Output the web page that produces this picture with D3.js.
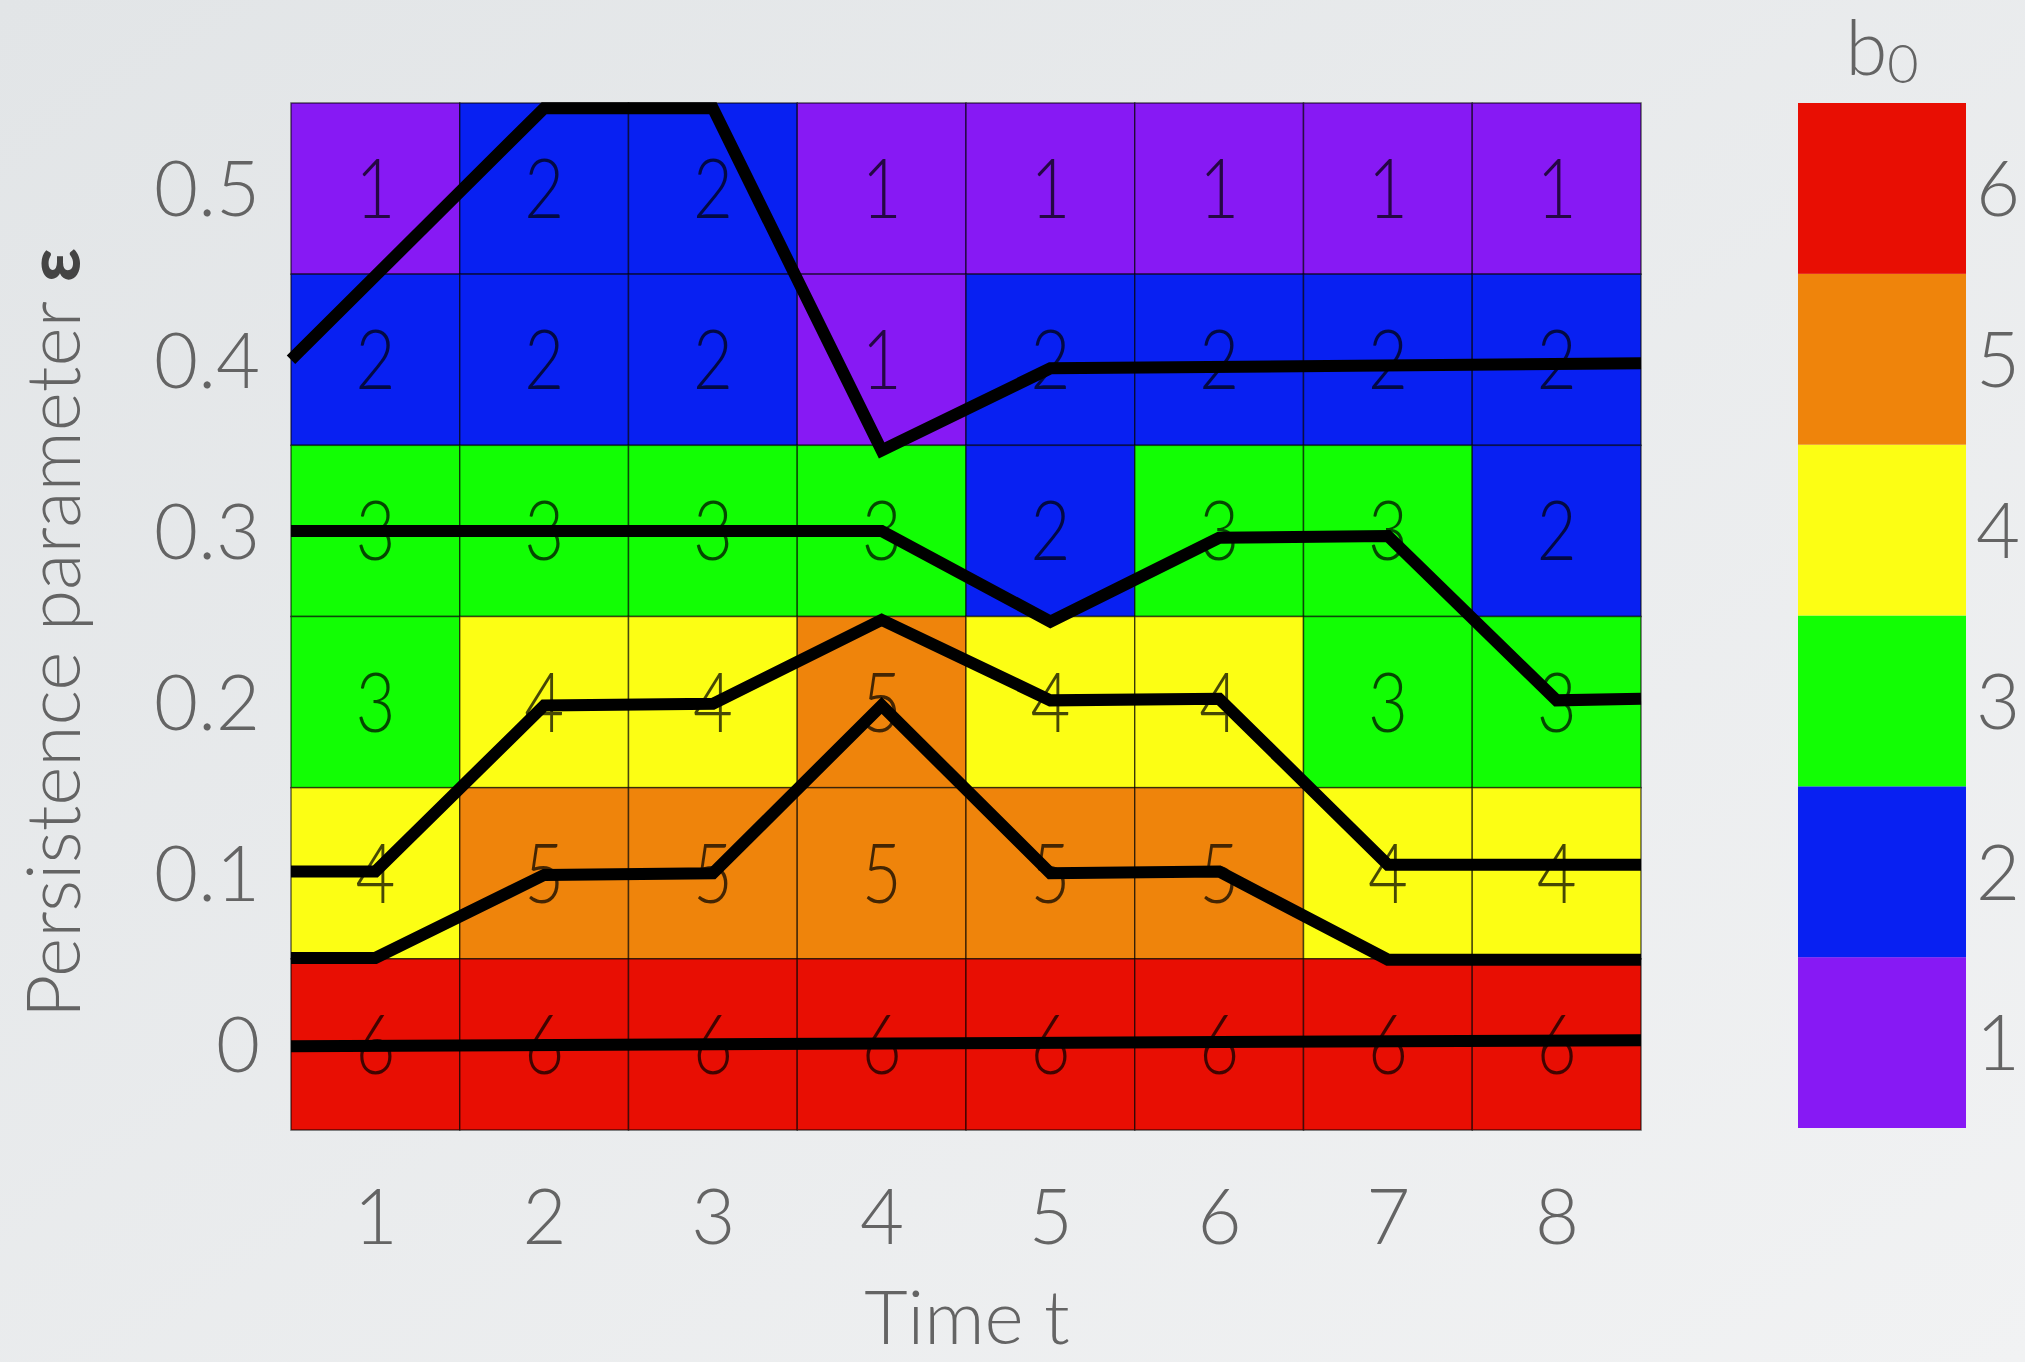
<!DOCTYPE html>
<html>
<head>
<meta charset="utf-8">
<script src="https://cdn.jsdelivr.net/npm/d3@7"></script>
<style>
  html, body { margin: 0; padding: 0; overflow: hidden; }
  svg { display: block; }
</style>
</head>
<body>
<svg id="chart" width="2025" height="1362"></svg>
<script>
// Time steps (columns) and persistence levels (rows, top to bottom)
const times = [1, 2, 3, 4, 5, 6, 7, 8];
const epsLevels = [0.5, 0.4, 0.3, 0.2, 0.1, 0];

// Number of connected components b0 per time step, one array per persistence level
const b0AtEps05 = [1, 2, 2, 1, 1, 1, 1, 1];
const b0AtEps04 = [2, 2, 2, 1, 2, 2, 2, 2];
const b0AtEps03 = [3, 3, 3, 3, 2, 3, 3, 2];
const b0AtEps02 = [3, 4, 4, 5, 4, 4, 3, 3];
const b0AtEps01 = [4, 5, 5, 5, 5, 5, 4, 4];
const b0AtEps00 = [6, 6, 6, 6, 6, 6, 6, 6];

// Colour bar levels and their colours
const b0Levels = [1, 2, 3, 4, 5, 6];
const b0Colors = ["#8719f4", "#0820f2", "#12fe04", "#fcfe14", "#ef840b", "#e80e03"];

// Persistence curves: [time, epsilon] pairs
const curve1 = [[0.5, 0.400], [2, 0.547], [3, 0.547], [4, 0.347], [5, 0.395], [8.5, 0.398]];
const curve2 = [[0.5, 0.300], [4, 0.300], [5, 0.247], [6, 0.296], [7, 0.297], [8, 0.201], [8.5, 0.202]];
const curve3 = [[0.5, 0.101], [1, 0.101], [2, 0.198], [3, 0.199], [4, 0.248], [5, 0.201], [6, 0.202], [7, 0.105], [8.5, 0.105]];
const curve4 = [[0.5, 0.0505], [1, 0.0505], [2, 0.099], [3, 0.100], [4, 0.198], [5, 0.100], [6, 0.101], [7, 0.0495], [8.5, 0.0495]];
const curve5 = [[0.5, -0.001], [8.5, 0.0025]];

const rowsB0 = [b0AtEps05, b0AtEps04, b0AtEps03, b0AtEps02, b0AtEps01, b0AtEps00];
const curves = [curve1, curve2, curve3, curve4, curve5];

const svg = d3.select("#chart");
const W = 2025, H = 1362;

// Background
const defs = svg.append("defs");
const bg = defs.append("linearGradient").attr("id", "bg")
  .attr("x1", "0").attr("y1", "0").attr("x2", "1").attr("y2", "1");
bg.append("stop").attr("offset", "0").attr("stop-color", "#e2e5e7");
bg.append("stop").attr("offset", "1").attr("stop-color", "#f1f2f3");
svg.append("rect").attr("width", W).attr("height", H).attr("fill", "url(#bg)");

// Plot area
const plot = { left: 291, right: 1641, top: 103, bottom: 1130 };
const x = d3.scaleLinear().domain([0.5, 8.5]).range([plot.left, plot.right]);
const y = d3.scaleLinear().domain([-0.05, 0.55]).range([plot.bottom, plot.top]);
const color = d3.scaleOrdinal().domain(b0Levels).range(b0Colors);

const fontFamily = "Lato, 'Open Sans', 'Noto Sans', sans-serif";
const labelGrey = "#646464";

// Heatmap cells
const cells = [];
epsLevels.forEach((e, r) => {
  times.forEach((t, c) => cells.push({ t, e, v: rowsB0[r][c] }));
});

const cellG = svg.append("g");
cellG.selectAll("rect").data(cells).join("rect")
  .attr("x", d => x(d.t - 0.5))
  .attr("y", d => y(d.e + 0.05))
  .attr("width", d => x(d.t + 0.5) - x(d.t - 0.5))
  .attr("height", d => y(d.e - 0.05) - y(d.e + 0.05))
  .attr("fill", d => color(d.v))
  .attr("stroke", "rgba(0,0,0,0.6)")
  .attr("stroke-width", 1.5);

cellG.selectAll("text").data(cells).join("text")
  .attr("transform", d => `translate(${x(d.t)},${y(d.e)}) scale(0.84,1)`)
  .attr("dy", "0.36em")
  .attr("text-anchor", "middle")
  .attr("font-family", fontFamily)
  .attr("font-weight", 300)
  .attr("font-size", 82)
  .attr("fill", "rgba(0,0,0,0.72)")
  .text(d => d.v);

// Persistence curves
const line = d3.line().x(d => x(d[0])).y(d => y(d[1]));
svg.append("g").selectAll("path").data(curves).join("path")
  .attr("d", line)
  .attr("fill", "none")
  .attr("stroke", "#000")
  .attr("stroke-width", 12)
  .attr("stroke-linejoin", "miter")
  .attr("stroke-linecap", "butt");

// Axes
function styleAxis(g) {
  g.select(".domain").remove();
  g.selectAll(".tick line").remove();
  g.selectAll("text")
    .attr("font-family", fontFamily)
    .attr("font-weight", 300)
    .attr("font-size", 76)
    .attr("fill", labelGrey);
}

const yAxis = d3.axisLeft(y).tickValues(epsLevels).tickSize(0).tickPadding(31)
  .tickFormat(d => d === 0 ? "0" : d3.format(".1f")(d));
svg.append("g").attr("transform", `translate(${plot.left},0)`).call(yAxis).call(styleAxis)
  .selectAll("text").attr("dy", "0.36em");

const xAxis = d3.axisBottom(x).tickValues(times).tickSize(0).tickPadding(60)
  .tickFormat(d3.format("d"));
svg.append("g").attr("transform", `translate(0,${plot.bottom})`).call(xAxis).call(styleAxis)
  .selectAll("text").attr("dy", "0.71em");

// Axis titles
svg.append("text")
  .attr("x", (plot.left + plot.right) / 2 + 1)
  .attr("y", 1344)
  .attr("text-anchor", "middle")
  .attr("font-family", fontFamily)
  .attr("font-weight", 300)
  .attr("font-size", 75)
  .attr("fill", labelGrey)
  .text("Time t");

const yTitle = svg.append("text")
  .attr("transform", "translate(80,633) rotate(-90)")
  .attr("text-anchor", "middle")
  .attr("font-family", fontFamily)
  .attr("font-weight", 300)
  .attr("font-size", 75)
  .attr("fill", labelGrey);
yTitle.append("tspan").text("Persistence parameter ");
yTitle.append("tspan").attr("font-weight", 700).attr("fill", "#444").text("ε");

// Colour bar
const cb = { left: 1798, right: 1966, top: 103, bottom: 1128 };
const cy = d3.scaleLinear().domain([0.5, 6.5]).range([cb.bottom, cb.top]);
svg.append("g").selectAll("rect").data(b0Levels).join("rect")
  .attr("x", cb.left)
  .attr("y", d => cy(d + 0.5))
  .attr("width", cb.right - cb.left)
  .attr("height", d => cy(d - 0.5) - cy(d + 0.5))
  .attr("fill", d => color(d));

const cAxis = d3.axisRight(cy).tickValues(b0Levels).tickSize(0).tickPadding(10)
  .tickFormat(d3.format("d"));
svg.append("g").attr("transform", `translate(${cb.right},0)`).call(cAxis).call(styleAxis)
  .selectAll("text").attr("dy", "0.36em");

// Colour bar title b0
const cbTitle = svg.append("text")
  .attr("x", (cb.left + cb.right) / 2)
  .attr("y", 75)
  .attr("text-anchor", "middle")
  .attr("font-family", fontFamily)
  .attr("font-weight", 300)
  .attr("font-size", 76)
  .attr("fill", labelGrey);
cbTitle.append("tspan").text("b");
cbTitle.append("tspan").attr("font-size", 54).attr("dy", 8).text("0");
</script>
</body>
</html>
